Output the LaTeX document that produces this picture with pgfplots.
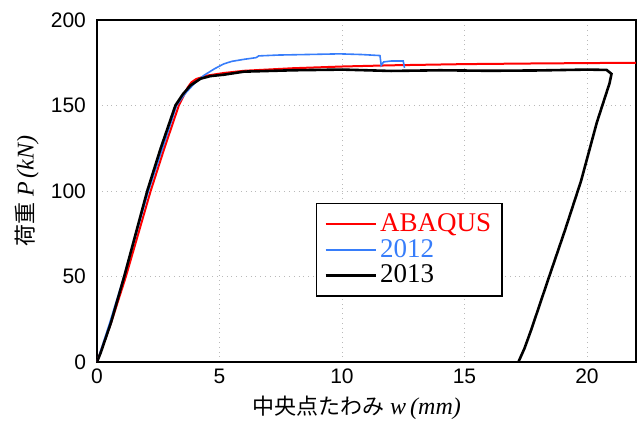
\documentclass[border=0pt]{standalone}
\usepackage{pgfplots}
\pgfplotsset{compat=1.18}
\usepackage{fontspec}
\setmainfont{Liberation Sans}
\newfontfamily\jp{Noto Sans CJK JP}
\newfontfamily\serif{Liberation Serif}

\definecolor{abaqusred}{RGB}{255,0,0}
\definecolor{blue2012}{RGB}{55,125,250}

\begin{document}
\begin{tikzpicture}
\begin{axis}[
  scale only axis,
  width=269.5pt, height=171pt,
  xmin=0, xmax=22, ymin=0, ymax=200,
  xtick={0,5,10,15,20}, ytick={0,50,100,150,200},
  major tick length=0pt,
  /pgf/number format/assume math mode=true,
  tick label style={font=\fontsize{10.5}{12}\selectfont},
  yticklabel style={xshift=-2pt},
  grid=major,
  grid style={gray!55, dotted, line width=0.4pt},
  axis line style={line width=1.2pt},
  xlabel={{\jp\fontsize{11}{12}\selectfont 中央点たわみ}\ {\serif\itshape\fontsize{12}{12}\selectfont w\,(mm)}},
  ylabel={{\jp\fontsize{11}{12}\selectfont 荷重}\ {\serif\itshape\fontsize{12}{12}\selectfont P\,(kN)}},
  xlabel style={at={(axis description cs:0.482,0)}, anchor=center, yshift=-23pt},
  ylabel style={at={(axis description cs:-0.13,0.5)}, anchor=center},
  legend style={at={(0.406,0.465)}, anchor=north west, draw=black, line width=0.6pt,
    font=\serif\fontsize{13.5}{12}\selectfont, inner sep=4pt, row sep=0pt,
    nodes={inner sep=1.5pt, text height=8.5pt, text depth=1.25pt}},
  legend cell align={left},
  legend image code/.code={\draw[#1] (0pt,0pt) -- (25pt,0pt);},
]
\addplot [abaqusred, line width=1pt] coordinates {
(0,0) (0.6,24) (1.18,50) (2.19,100) (2.75,125) (3.34,150) (3.55,156) (3.7,160.5)
(3.85,163.5) (4.05,165.5) (4.5,167.5) (5.17,169) (6,170.3) (8,171.8) (10,172.8)
(12,173.5) (15,174.2) (18,174.6) (22,175)
};
\addlegendentry{\textcolor{abaqusred}{ABAQUS}}
\addplot [blue2012, line width=0.8pt] coordinates {
(0,0) (0.5,22) (1.1,50) (2.1,100) (3.25,150) (3.6,157) (3.95,162.5) (4.36,167.6)
(4.8,171.5) (5.17,174.3) (5.5,175.8) (6,177) (6.5,178) (6.6,179) (7.4,179.5)
(8.5,179.8) (9.9,180.2) (10.8,179.8) (11.55,179.2) (11.6,173.5) (11.7,175.5)
(12.0,176) (12.5,176) (12.55,172)
};
\addlegendentry{\textcolor{blue2012}{2012}}
\addplot [black, line width=1.3pt] coordinates {
(0,0) (0.16,5.8) (0.57,23) (1.11,50) (1.58,75) (2.05,100) (2.6,125) (3.2,150)
(3.5,156.5) (3.82,161.8) (4.23,165.7) (4.63,167.2) (5.17,168) (6,169.8) (8,170.6)
(10,171) (12,170.2) (14,170.6) (16,170.3) (18,170.5) (20,171) (20.8,170.8)
(21.0,168.5) (20.92,163) (20.4,140) (19.76,106) (19.1,77) (18.41,48) (17.72,18.7)
(17.45,8) (17.2,0)
};
\addlegendentry{2013}
\end{axis}
\pgfresetboundingbox
\path (-48.5pt,-30.5pt) rectangle (270.5pt,181pt);
\end{tikzpicture}
\end{document}
